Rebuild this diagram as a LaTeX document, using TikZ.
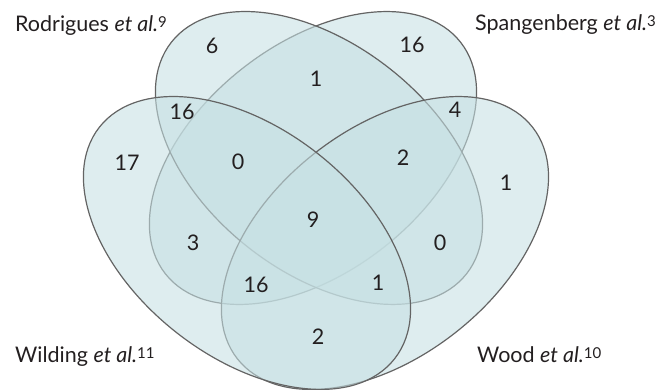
\documentclass[tikz,border=0pt]{standalone}
\usepackage{fontspec}
\setmainfont{Lato}
\newcommand\refnum[1]{\raisebox{4.5pt}{\fontsize{15}{17}\selectfont #1}}
\definecolor{vennfill}{RGB}{198,224,227}
\definecolor{vennline}{RGB}{100,100,100}
\definecolor{numtext}{RGB}{35,31,32}
\begin{document}
\begin{tikzpicture}[x=1pt,y=-1pt,
  venn/.style={fill=vennfill, fill opacity=0.58, draw=vennline, line width=1.2pt},
  num/.style={text=numtext, font=\fontsize{21.5}{25}\selectfont, inner sep=0pt},
  study/.style={num, anchor=base west}]
\useasboundingbox (0,0) rectangle (665,390);
\coordinate (cR) at (319,158);
\coordinate (cS) at (313,158);
\coordinate (cW) at (247,243);
\coordinate (cWo) at (385,243);
% the four sets
\draw[venn, rotate around={38.1:(cS)}] (cS) ellipse [x radius=187.6, y radius=114];
\draw[venn, rotate around={-38.1:(cR)}] (cR) ellipse [x radius=187.6, y radius=114];
\draw[venn, rotate around={38.1:(cWo)}] (cWo) ellipse [x radius=187.6, y radius=114];
\draw[venn, rotate around={-38.1:(cW)}] (cW) ellipse [x radius=187.6, y radius=114];
% counts
\node[num] (nR) at (212,46) {6};
\node[num] (nS) at (412,45) {16};
\node[num] (nRS) at (316,79) {1};
\node[num] (nRW) at (182,112) {16};
\node[num] (nSWo) at (455,110) {4};
\node[num] (nW) at (127,163) {17};
\node[num] (nRSW) at (238,162) {0};
\node[num] (nRSWo) at (403,158) {2};
\node[num] (nWo) at (506,183) {1};
\node[num] (nAll) at (313,220) {9};
\node[num] (nSW) at (193,243) {3};
\node[num] (nRWo) at (440,243) {0};
\node[num] (nSWWo) at (256,285) {16};
\node[num] (nRWWo) at (378,283) {1};
\node[num] (nWWo) at (318,337) {2};
% studies
\node[study] (labR) at (15,32) {Rodrigues \textit{et al.}\refnum{9}};
\node[study] (labS) at (475,31) {Spangenberg \textit{et al.}\refnum{3}};
\node[study] (labW) at (15,363) {Wilding \textit{et al.}\refnum{11}};
\node[study] (labWo) at (477,363) {Wood \textit{et al.}\refnum{10}};
\end{tikzpicture}
\end{document}
